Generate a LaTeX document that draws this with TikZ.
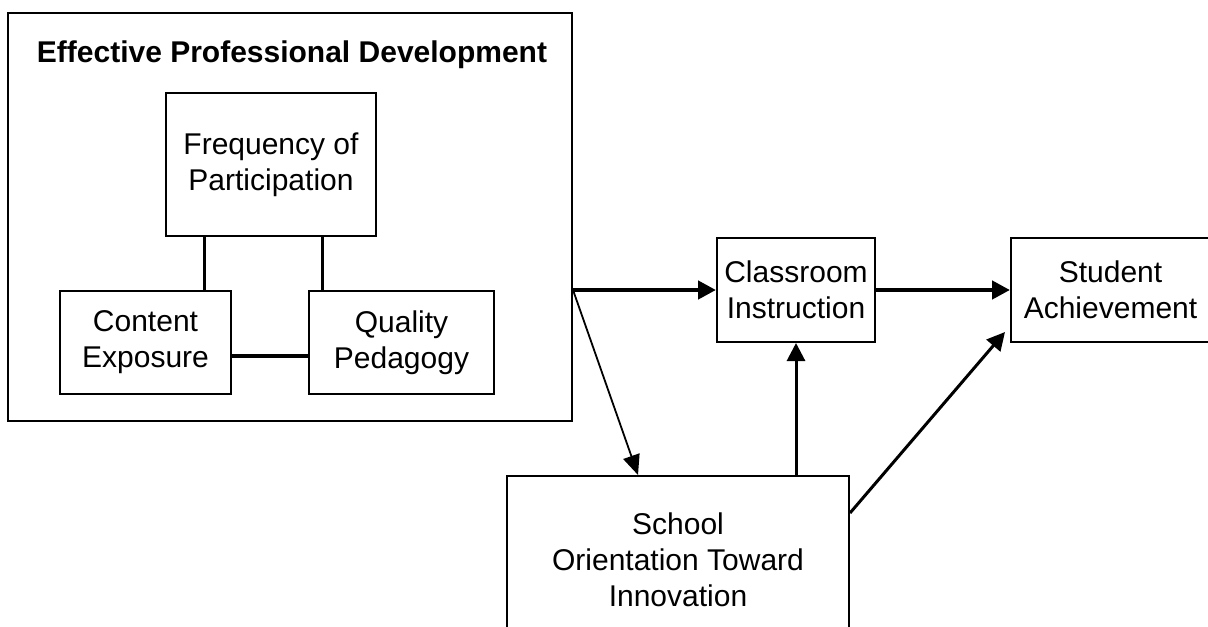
\documentclass[tikz,border=0pt]{standalone}
\usepackage{fontspec}
\setmainfont{Liberation Sans}
\usetikzlibrary{arrows.meta}

\begin{document}
\begin{tikzpicture}[x=0.5pt,y=-0.5pt,>={Triangle[length=9pt,width=9pt]},
  font=\fontsize{15}{18}\selectfont,
  box/.style={draw,line width=1pt,align=center,inner sep=0pt},
  link/.style={line width=1.5pt},
  thicklink/.style={line width=2.2pt},
  thinarrow/.style={->,line width=0.9pt,>={Triangle[length=10pt,width=8.5pt]}},
  midarrow/.style={->,line width=1.5pt},
  bigarrow/.style={->,line width=2.2pt}]
\useasboundingbox (0,0) rectangle (1208,626);
\node (pd) at (290,217) [box, minimum width=282pt, minimum height=204pt] {};
\node (title) at (292,55) [font=\fontsize{15}{18}\selectfont\bfseries] {Effective Professional Development};
\node (freq) at (271,164.5) [box, minimum width=105pt, minimum height=71.5pt] {Frequency of\\Participation};
\node (content) at (145.5,342.5) [box, minimum width=85.5pt, minimum height=51.5pt] {Content\\Exposure};
\node (quality) at (401.5,342.5) [box, minimum width=92.5pt, minimum height=51.5pt] {Quality\\Pedagogy};
\node (classroom) at (796,290) [box, minimum width=79pt, minimum height=52pt] {Classroom\\Instruction};
\node (student) at (1110.5,290) [box, minimum width=99.5pt, minimum height=52pt] {Student\\Achievement};
\node (school) at (678,560) [box, minimum width=171pt, minimum height=84pt] {School\\Orientation Toward\\Innovation};
\coordinate (fl) at (204,0);
\coordinate (fr) at (322,0);
\coordinate (mid) at (0,356);
\draw [link] (fl |- freq.south) -- (fl |- content.north);
\draw [link] (fr |- freq.south) -- (fr |- quality.north);
\draw [thicklink] (content.east |- mid) -- (quality.west |- mid);
\draw [bigarrow] (pd.east |- classroom) -- (classroom.west);
\draw [thinarrow] (pd.east |- classroom) -- ([xshift=-20pt]school.north);
\draw [midarrow] (school.north -| classroom.south) -- (classroom.south);
\draw [bigarrow] (classroom.east) -- (student.west);
\draw [midarrow] ([yshift=23.5pt]school.east) -- ([shift={(-2.5pt,5.5pt)}]student.south west);
\end{tikzpicture}
\end{document}
